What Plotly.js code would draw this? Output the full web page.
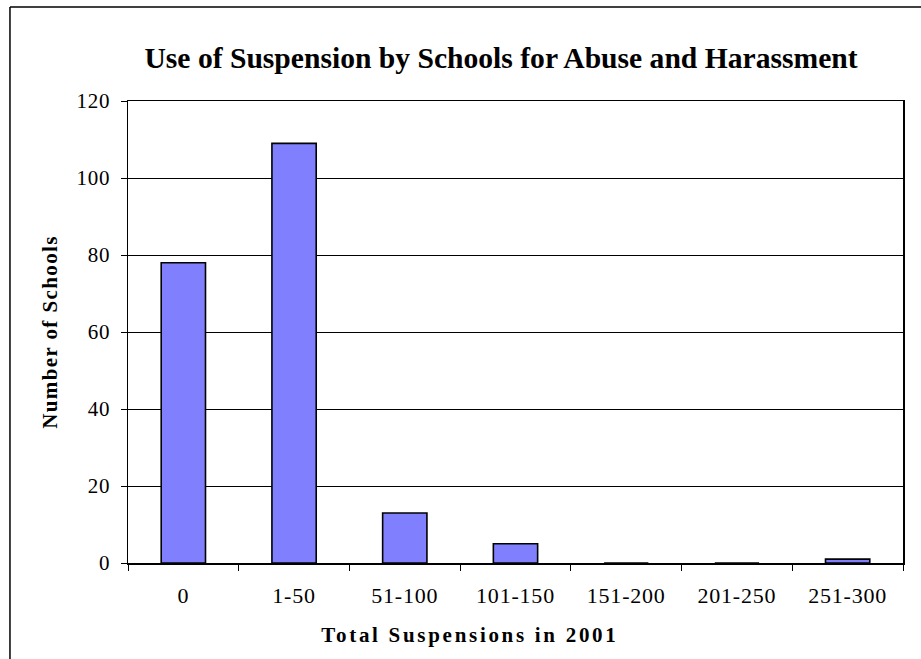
<!DOCTYPE html>
<html>
<head>
<meta charset="utf-8">
<script src="https://cdn.plot.ly/plotly-3.0.1.min.js"></script>
<style>
  html, body { margin: 0; padding: 0; background: #fff; }
  #chart { width: 921px; height: 659px; }
  /* slightly open letter spacing for the axis texts */
  #chart .annotation-text { letter-spacing: 2.7px; }
  #chart .ytitle { letter-spacing: 1.4px; }
  #chart .xtick text, #chart .ytick text { letter-spacing: 0.8px; }
</style>
</head>
<body>
<div id="chart"></div>
<script>
// Suspension ranges and number of schools in each range
const ranges = ["0", "1-50", "51-100", "101-150", "151-200", "201-250", "251-300"];
const schoolCounts = [78, 109, 13, 5, 0, 0, 1];
const yTicks = [0, 20, 40, 60, 80, 100, 120];

const serif = "Liberation Serif, Times New Roman, serif";

const trace = {
  type: "bar",
  x: ranges,
  y: schoolCounts,
  marker: { color: "#8080FF", line: { color: "#000000", width: 1.6 } },
  hoverinfo: "x+y"
};

const layout = {
  width: 921,
  height: 659,
  margin: { l: 128, r: 18, t: 101, b: 96 },
  paper_bgcolor: "#ffffff",
  plot_bgcolor: "#ffffff",
  bargap: 0.6,
  showlegend: false,
  title: {
    text: "Use of Suspension by Schools for Abuse and Harassment",
    font: { family: serif, size: 29.6, color: "#000", weight: "bold" },
    x: 0.544, xanchor: "center",
    y: 0.912, yanchor: "middle"
  },
  xaxis: {
    type: "category",
    tickson: "boundaries",
    ticks: "outside",
    ticklen: 6,
    tickcolor: "#000",
    tickwidth: 1,
    ticklabelstandoff: 12,
    showline: true, linecolor: "#000", linewidth: 1.5, mirror: true,
    showgrid: false,
    tickfont: { family: serif, size: 22, color: "#000" }
  },
  yaxis: {
    range: [0, 120],
    tickvals: yTicks,
    ticktext: yTicks.map(String),
    ticks: "outside",
    ticklen: 6,
    tickcolor: "#000",
    ticklabelstandoff: 6,
    showline: true, linecolor: "#000", linewidth: 1.5, mirror: true,
    showgrid: true, gridcolor: "#000", gridwidth: 1,
    zeroline: false,
    tickfont: { family: serif, size: 21, color: "#000" },
    title: {
      text: "Number of Schools",
      font: { family: serif, size: 21, color: "#000", weight: "bold" },
      standoff: 15
    }
  },
  annotations: [
    // x-axis title
    { text: "Total Suspensions in 2001", xref: "paper", yref: "paper",
      x: 0.441, y: -0.156, xanchor: "center", yanchor: "middle", showarrow: false,
      font: { family: serif, size: 21, color: "#000", weight: "bold" } }
  ],
  shapes: [
    // outer chart frame (left and top edges)
    { type: "line", xref: "paper", yref: "paper", x0: -0.1523, x1: -0.1523, y0: -0.3, y1: 1.2035,
      line: { color: "#000", width: 1.5 } },
    { type: "line", xref: "paper", yref: "paper", x0: -0.1523, x1: 1.1, y0: 1.2035, y1: 1.2035,
      line: { color: "#000", width: 1.5 } }
  ]
};

Plotly.newPlot("chart", [trace], layout, { displayModeBar: false, staticPlot: true });
</script>
</body>
</html>
